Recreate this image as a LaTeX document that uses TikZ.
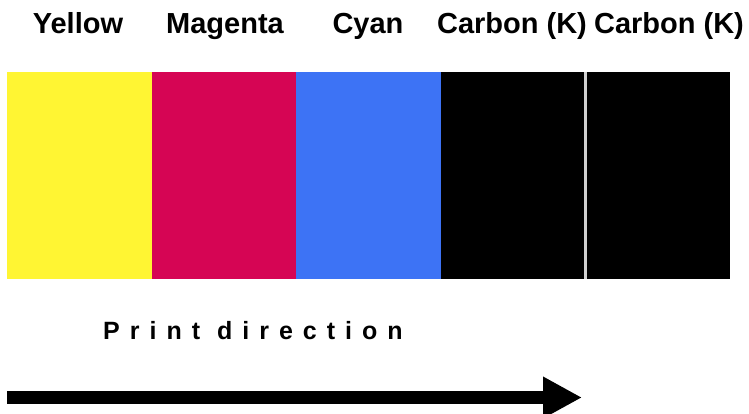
\documentclass[tikz,border=0pt]{standalone}
\usepackage{fontspec}
\setmainfont{Liberation Sans}
\usetikzlibrary{arrows.meta}
\definecolor{inkyellow}{rgb}{1.,0.96,0.2}
\definecolor{inkmagenta}{rgb}{0.84,0.02,0.33}
\definecolor{inkcyan}{rgb}{0.24,0.45,0.96}
\definecolor{sepgray}{rgb}{0.82,0.82,0.82}

\begin{document}
\begin{tikzpicture}[x=1pt,y=-1pt,line cap=butt,
  band/.style={inner sep=0pt,minimum width=144.6pt,minimum height=206pt},
  inklabel/.style={anchor=base,inner sep=0pt,font=\fontsize{29}{31}\selectfont\bfseries}]
\useasboundingbox (0,0) rectangle (749,414);
\foreach \i/\lx/\col/\txt in {0/78/inkyellow/Yellow,1/225/inkmagenta/Magenta,2/368/inkcyan/Cyan,3/512/black/{Carbon (K)},4/669/black/{Carbon (K)}}
{
\node[band,fill=\col] (band\i) at ({79.3+144.6*\i},175.5) {};
\node[inklabel] (lab\i) at (\lx,34) {\txt};
}
\draw[color=sepgray,line width=2.5pt] (band3.north east) -- (band3.south east);
\node[anchor=base west,inner sep=0pt,font=\fontsize{25}{27}\selectfont\bfseries\addfontfeature{LetterSpace=40}] (dir) at (103,339) {Print direction};
\coordinate (tail) at (7,397.5);
\coordinate (tip) at (582,397.5);
\draw[line width=13pt,-{Triangle[length=39pt,width=39pt]}] (tail) -- (tip);
\end{tikzpicture}
\end{document}
